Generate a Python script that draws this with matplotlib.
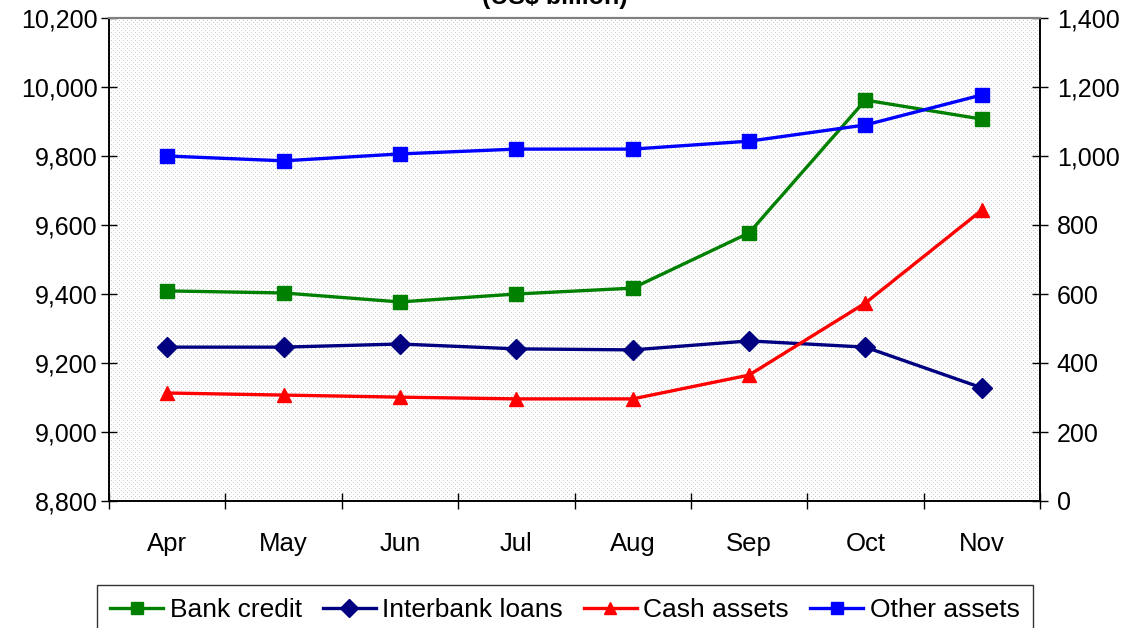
import matplotlib
matplotlib.use("Agg")
import matplotlib.pyplot as plt
import numpy as np
from matplotlib.ticker import FuncFormatter

months = ['Apr', 'May', 'Jun', 'Jul', 'Aug', 'Sep', 'Oct', 'Nov']
bank_credit = [9409, 9403, 9377, 9400, 9417, 9577, 9962, 9907]
interbank_loans = [446, 446, 455, 441, 438, 464, 446, 328]
cash_assets = [313, 307, 301, 296, 296, 365, 574, 843]
other_assets = [1000, 986, 1006, 1020, 1020, 1043, 1090, 1177]

plt.rcParams['font.family'] = ['Liberation Sans', 'DejaVu Sans']

fig = plt.figure(figsize=(11.32, 6.28), dpi=100)
ax = fig.add_axes([109 / 1132, 1 - 501 / 628, (1040 - 109) / 1132, (501 - 18) / 628])
ax2 = ax.twinx()

# staggered dot pattern like the excel "5%" fill
h, w = 483, 931
rr, cc = np.mgrid[0:h, 0:w]
dots = ((rr % 4 == 0) & (cc % 4 == 0)) | ((rr % 4 == 2) & (cc % 4 == 2))
bg = np.where(dots, 0.8, 1.0)
ax.imshow(bg, cmap='gray', vmin=0, vmax=1, extent=[0, 1, 0, 1],
          transform=ax.transAxes, interpolation='nearest', aspect='auto', zorder=0)

x = list(range(len(months)))
lw = 2.4
ms = 10

l1, = ax.plot(x, bank_credit, color='#008000', lw=lw, marker='s', ms=ms, label='Bank credit')
l2, = ax2.plot(x, interbank_loans, color='#000080', lw=lw, marker='D', ms=ms, label='Interbank loans')
l3, = ax2.plot(x, cash_assets, color='#ff0000', lw=lw, marker='^', ms=ms, label='Cash assets')
l4, = ax2.plot(x, other_assets, color='#0000ff', lw=lw, marker='s', ms=ms, label='Other assets')

ax.set_xlim(-0.5, len(months) - 0.5)
ax.set_ylim(8800, 10200)
ax2.set_ylim(0, 1400)
ax.set_yticks(range(8800, 10201, 200))
ax2.set_yticks(range(0, 1401, 200))
fmt = FuncFormatter(lambda v, p: f'{int(v):,}')
ax.yaxis.set_major_formatter(fmt)
ax2.yaxis.set_major_formatter(fmt)

ax.set_xticks([i + 0.5 for i in range(-1, len(months))])
ax.set_xticklabels([])
ax.set_xticks(x, minor=True)
ax.set_xticklabels(months, minor=True)
ax.tick_params(axis='x', which='major', direction='inout', length=12, width=1)
ax.tick_params(axis='x', which='minor', length=0, pad=22, labelsize=18.5)
ax.tick_params(axis='y', direction='inout', length=12, width=1, labelsize=18, pad=2)
ax2.tick_params(axis='y', direction='inout', length=12, width=1, labelsize=18, pad=6)

for a in (ax, ax2):
    a.spines['top'].set_color('#808080')
    a.spines['top'].set_linewidth(1.5)
    a.spines['left'].set_linewidth(1.2)
    a.spines['right'].set_linewidth(1.2)
    a.spines['bottom'].set_linewidth(1.2)

fig.text(0.49, 1 - 4 / 628, '(US$ billion)', ha='center', va='baseline',
         fontsize=18, fontweight='bold')

leg = fig.legend(handles=[l1, l2, l3, l4], loc='upper left',
                 bbox_to_anchor=(97 / 1132, 1 - 585 / 628), ncol=4,
                 fontsize=19, frameon=True, fancybox=False, edgecolor='black',
                 handlelength=2.0, handletextpad=0.25, columnspacing=0.8,
                 borderpad=0.5, borderaxespad=0, markerscale=0.9)
leg.get_frame().set_linewidth(1.0)

fig.savefig('out.png', dpi=100)
